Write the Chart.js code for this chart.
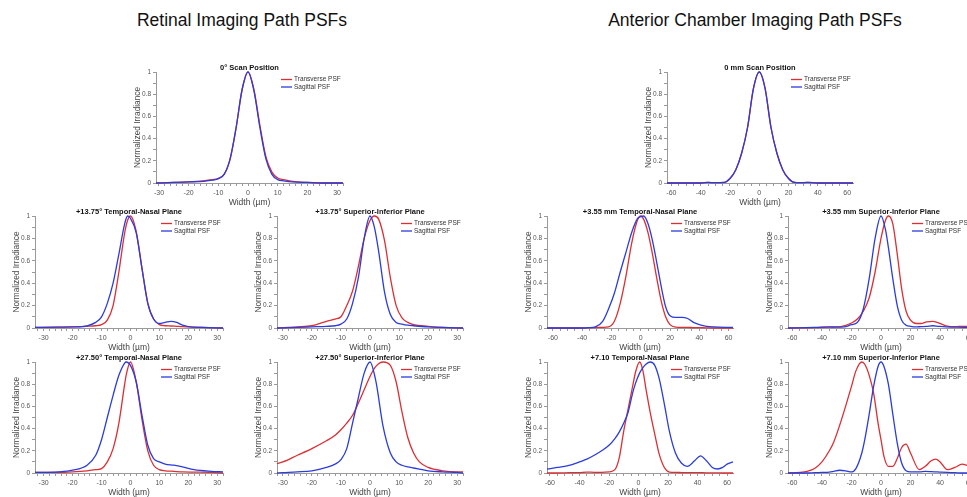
<!DOCTYPE html>
<html>
<head>
<meta charset="utf-8">
<title>Retinal and Anterior Chamber PSFs</title>
<script src="https://cdn.jsdelivr.net/npm/chart.js@4.4.1/dist/chart.umd.min.js"></script>
<style>
  html, body { margin: 0; padding: 0; background: #fff; }
  body { width: 967px; height: 497px; position: relative; overflow: hidden; font-family: "Liberation Sans", Arial, sans-serif; }
  .head { position: absolute; top: 10px; width: 480px; font-size: 17.5px; color: #111; text-align: center; }
  canvas { position: absolute; }
</style>
</head>
<body>
<div class="head" style="left:2px">Retinal Imaging Path PSFs</div>
<div class="head" style="left:515px">Anterior Chamber Imaging Path PSFs</div>
<script>
// values (width in µm, normalized irradiance)
const c1X     = [-31, -25, -20, -15, -12, -10, -8, -6, -4, -2, 0, 2, 4, 6, 8, 10, 12, 15, 20, 25, 32];
const c1Trans = [0, 0.005, 0.01, 0.02, 0.03, 0.04, 0.08, 0.22, 0.5, 0.84, 1, 0.84, 0.52, 0.24, 0.1, 0.045, 0.03, 0.015, 0.005, 0, 0];
const c1Sag   = [0, 0.005, 0.01, 0.015, 0.025, 0.04, 0.08, 0.22, 0.5, 0.84, 1, 0.83, 0.5, 0.22, 0.08, 0.03, 0.02, 0.01, 0.005, 0, 0];

const c2X     = [-33, -25, -20, -15, -12, -10, -8, -6, -4, -2, -1, 0, 2, 4, 6, 8, 10, 12, 14, 16, 18, 20, 25, 32];
const c2Trans = [0.005, 0.008, 0.01, 0.015, 0.02, 0.03, 0.07, 0.2, 0.5, 0.85, 0.96, 1, 0.86, 0.53, 0.22, 0.08, 0.03, 0.02, 0.018, 0.015, 0.012, 0.01, 0.005, 0];
const c2Sag   = [0.005, 0.008, 0.01, 0.02, 0.05, 0.1, 0.22, 0.4, 0.66, 0.93, 1, 0.98, 0.85, 0.53, 0.22, 0.08, 0.04, 0.05, 0.06, 0.05, 0.025, 0.012, 0.005, 0];

const c3X     = [-32, -25, -20, -15, -12, -10, -8, -6, -4, -2, 0, 1.5, 3, 5, 7, 9, 11, 13, 15, 20, 25, 32];
const c3Trans = [0, 0.01, 0.02, 0.06, 0.08, 0.1, 0.2, 0.33, 0.55, 0.8, 0.96, 1, 0.97, 0.78, 0.45, 0.2, 0.09, 0.05, 0.03, 0.015, 0.005, 0];
const c3Sag   = [0, 0.005, 0.01, 0.015, 0.02, 0.035, 0.08, 0.22, 0.45, 0.8, 1, 0.9, 0.68, 0.32, 0.12, 0.05, 0.035, 0.025, 0.02, 0.01, 0.005, 0];

const c4X     = [-33, -25, -20, -15, -12, -10, -8, -6, -4, -2, -1.5, 0, 2, 4, 6, 8, 10, 12, 15, 18, 22, 28, 32];
const c4Trans = [0.005, 0.005, 0.01, 0.02, 0.03, 0.04, 0.1, 0.22, 0.45, 0.8, 0.88, 1, 0.82, 0.48, 0.2, 0.07, 0.03, 0.02, 0.015, 0.01, 0.008, 0.005, 0];
const c4Sag   = [0.005, 0.01, 0.025, 0.07, 0.16, 0.3, 0.5, 0.7, 0.88, 0.99, 1, 0.97, 0.82, 0.52, 0.25, 0.13, 0.1, 0.08, 0.07, 0.055, 0.03, 0.015, 0.01];

const c5X     = [-32, -30, -25, -20, -15, -12, -10, -8, -6, -4, -2, 0, 2, 4.5, 7, 9, 11, 13, 15, 17, 20, 25, 30, 32];
const c5Trans = [0.085, 0.1, 0.16, 0.22, 0.29, 0.34, 0.39, 0.45, 0.52, 0.63, 0.75, 0.87, 0.96, 1, 0.97, 0.82, 0.55, 0.32, 0.18, 0.1, 0.05, 0.02, 0.01, 0.01];
const c5Sag   = [0, 0.003, 0.01, 0.02, 0.05, 0.08, 0.12, 0.22, 0.45, 0.68, 0.9, 1, 0.83, 0.42, 0.18, 0.1, 0.07, 0.055, 0.045, 0.035, 0.02, 0.01, 0.005, 0];

const c6X     = [-63, -40, -35, -30, -24, -20, -16, -12, -8, -4, 0, 4, 8, 12, 16, 20, 24, 28, 33, 40, 64];
const c6Trans = [0, 0, 0.005, 0.003, 0.005, 0.04, 0.12, 0.27, 0.5, 0.85, 1, 0.85, 0.5, 0.27, 0.12, 0.04, 0.005, 0.003, 0.005, 0, 0];
const c6Sag   = [0, 0, 0.005, 0.003, 0.005, 0.04, 0.12, 0.27, 0.5, 0.85, 1, 0.85, 0.5, 0.27, 0.12, 0.04, 0.005, 0.003, 0.005, 0, 0];

const c7X     = [-64, -40, -36, -31, -26, -22, -18, -14, -10, -6, -2, 0, 2, 5, 8, 11, 14, 17, 20, 24, 28, 32, 36, 40, 45, 50, 63];
const c7Trans = [0, 0, 0.002, 0.004, 0.006, 0.01, 0.06, 0.22, 0.47, 0.77, 0.97, 1, 0.97, 0.85, 0.66, 0.44, 0.24, 0.1, 0.03, 0.008, 0.006, 0.005, 0.004, 0.003, 0.002, 0, 0];
const c7Sag   = [0, 0, 0.003, 0.01, 0.06, 0.17, 0.31, 0.5, 0.68, 0.86, 0.98, 0.995, 1, 0.93, 0.78, 0.58, 0.37, 0.19, 0.11, 0.095, 0.095, 0.085, 0.05, 0.03, 0.015, 0.01, 0.005];

const c8X     = [-63, -45, -35, -30, -25, -20, -16, -12, -8, -4, 0, 3, 5, 8, 11, 14, 17, 20, 24, 27, 31, 35, 39, 44, 50, 56, 63];
const c8Trans = [0, 0.003, 0.008, 0.01, 0.02, 0.045, 0.08, 0.15, 0.27, 0.5, 0.8, 0.96, 1, 0.93, 0.66, 0.35, 0.15, 0.07, 0.04, 0.04, 0.055, 0.06, 0.045, 0.02, 0.012, 0.015, 0.012];
const c8Sag   = [0, 0.005, 0.01, 0.008, 0.01, 0.03, 0.05, 0.17, 0.44, 0.8, 1, 0.88, 0.72, 0.44, 0.2, 0.07, 0.025, 0.015, 0.01, 0.012, 0.015, 0.02, 0.015, 0.01, 0.008, 0.006, 0.005];

const c9X     = [-62, -55, -50, -45, -40, -35, -30, -25, -20, -16, -13, -10, -7, -4, -2, 0.7, 3, 5, 8, 11, 14, 17.5, 21, 25, 29, 33, 38, 42, 46, 50, 53.5, 57, 60, 64];
const c9Trans = [0, 0, 0.002, 0.003, 0.004, 0.008, 0.006, 0.006, 0.01, 0.03, 0.14, 0.38, 0.58, 0.78, 0.91, 1, 0.92, 0.76, 0.54, 0.35, 0.17, 0.05, 0.008, 0.005, 0.004, 0.003, 0.004, 0.003, 0.002, 0.002, 0.001, 0, 0, 0];
const c9Sag   = [0.035, 0.05, 0.06, 0.075, 0.1, 0.125, 0.16, 0.2, 0.25, 0.31, 0.37, 0.45, 0.55, 0.72, 0.81, 0.9, 0.95, 0.98, 1, 0.97, 0.85, 0.62, 0.37, 0.18, 0.09, 0.06, 0.11, 0.155, 0.11, 0.05, 0.036, 0.05, 0.08, 0.1];

const c10X     = [-63, -55, -50, -45, -40, -35, -32, -28, -24, -20, -17, -13, -11, -8, -5, -2, 0, 2, 5, 8, 11, 14, 17, 20, 26, 30, 34, 37, 40, 45, 50, 55, 60, 63];
const c10Trans = [0, 0.005, 0.015, 0.04, 0.1, 0.2, 0.28, 0.43, 0.6, 0.78, 0.92, 1, 0.98, 0.88, 0.72, 0.45, 0.3, 0.15, 0.06, 0.06, 0.13, 0.23, 0.26, 0.18, 0.03, 0.06, 0.11, 0.125, 0.1, 0.03, 0.05, 0.08, 0.06, 0.04];
const c10Sag   = [0, 0, 0, 0.003, 0.005, 0.008, 0.015, 0.025, 0.02, 0.01, 0.04, 0.18, 0.3, 0.53, 0.78, 0.96, 1, 0.96, 0.8, 0.53, 0.27, 0.09, 0.02, 0.01, 0.01, 0.015, 0.012, 0.01, 0.008, 0.005, 0.003, 0, 0, 0];

const retinalTicks = [-30, -20, -10, 0, 10, 20, 30];
const anteriorTicks = [-60, -40, -20, 0, 20, 40, 60];
const yTicks = [0, 0.2, 0.4, 0.6, 0.8, 1];
const seriesNames = ['Transverse PSF', 'Sagittal PSF'];

const RED = '#dc2f34';
const BLUE = '#2b3cdc';
const AXIS = '#9a9a9a';
Chart.defaults.font.family = '"Liberation Sans", Arial, sans-serif';

// box = [plot left, plot top, plot width, plot height] on the page
const panels = [
  { title: '0° Scan Position', x: c1X, t: c1Trans, s: c1Sag, min: -31, max: 32, ticks: retinalTicks, step: 2, box: [156, 72, 187, 111] },
  { title: '+13.75° Temporal-Nasal Plane', x: c2X, t: c2Trans, s: c2Sag, min: -33, max: 32, ticks: retinalTicks, step: 2, box: [35, 216, 188, 112] },
  { title: '+13.75° Superior-Inferior Plane', x: c3X, t: c3Trans, s: c3Sag, min: -32, max: 32, ticks: retinalTicks, step: 2, box: [277, 216, 186, 112] },
  { title: '+27.50° Temporal-Nasal Plane', x: c4X, t: c4Trans, s: c4Sag, min: -33, max: 32, ticks: retinalTicks, step: 2, box: [35, 362, 188, 111] },
  { title: '+27.50° Superior-Inferior Plane', x: c5X, t: c5Trans, s: c5Sag, min: -32, max: 32, ticks: retinalTicks, step: 2, box: [277, 362, 186, 111] },
  { title: '0 mm Scan Position', x: c6X, t: c6Trans, s: c6Sag, min: -63, max: 64, ticks: anteriorTicks, step: 5, box: [667, 72, 186, 111] },
  { title: '+3.55 mm Temporal-Nasal Plane', x: c7X, t: c7Trans, s: c7Sag, min: -64, max: 63, ticks: anteriorTicks, step: 5, box: [547, 216, 186, 112] },
  { title: '+3.55 mm Superior-Inferior Plane', x: c8X, t: c8Trans, s: c8Sag, min: -63, max: 63, ticks: anteriorTicks, step: 5, box: [788, 216, 186, 112] },
  { title: '+7.10 Temporal-Nasal Plane', x: c9X, t: c9Trans, s: c9Sag, min: -62, max: 64, ticks: anteriorTicks, step: 5, box: [547, 362, 186, 111] },
  { title: '+7.10 mm Superior-Inferior Plane', x: c10X, t: c10Trans, s: c10Sag, min: -63, max: 63, ticks: anteriorTicks, step: 5, box: [788, 362, 186, 111] }
];

const PAD_L = 48, PAD_T = 24, PAD_B = 26, PAD_R = 12;

// small two-line legend in the top right corner of each plot
const psfLegend = {
  id: 'psfLegend',
  afterDatasetsDraw(chart) {
    const { ctx, chartArea } = chart;
    const x0 = chartArea.right - 62;
    ctx.save();
    ctx.font = '6.5px "Liberation Sans", Arial, sans-serif';
    ctx.textBaseline = 'middle';
    ctx.textAlign = 'left';
    chart.data.datasets.forEach((ds, i) => {
      const y = chartArea.top + 7.5 + i * 7.5;
      ctx.strokeStyle = ds.borderColor;
      ctx.lineWidth = 1.3;
      ctx.beginPath();
      ctx.moveTo(x0, y);
      ctx.lineTo(x0 + 11, y);
      ctx.stroke();
      ctx.fillStyle = '#333';
      ctx.fillText(ds.label, x0 + 13, y);
    });
    ctx.restore();
  }
};

function points(xs, ys) {
  return xs.map((x, i) => ({ x: x, y: ys[i] }));
}

function makeChart(p) {
  const [left, top, w, h] = p.box;
  const cv = document.createElement('canvas');
  cv.width = w + PAD_L + PAD_R;
  cv.height = h + PAD_T + PAD_B;
  cv.style.left = (left - PAD_L) + 'px';
  cv.style.top = (top - PAD_T) + 'px';
  document.body.appendChild(cv);

  const line = { pointRadius: 0, borderWidth: 1.3, fill: false, cubicInterpolationMode: 'monotone', clip: 5 };

  new Chart(cv, {
    type: 'line',
    data: {
      datasets: [
        Object.assign({ label: seriesNames[0], data: points(p.x, p.t), borderColor: RED, order: 1 }, line),
        Object.assign({ label: seriesNames[1], data: points(p.x, p.s), borderColor: BLUE, order: 0 }, line)
      ]
    },
    options: {
      responsive: false,
      animation: false,
      devicePixelRatio: 1,
      layout: { padding: { left: 0, right: PAD_R, top: 0, bottom: 0 } },
      plugins: {
        legend: { display: false },
        tooltip: { enabled: false },
        title: {
          display: true, text: p.title, fullSize: false, color: '#111',
          font: { size: 7.5, weight: 'bold' }, padding: { top: 15, bottom: 0 }
        }
      },
      scales: {
        x: {
          type: 'linear', min: p.min, max: p.max,
          afterFit: (s) => { s.height = PAD_B; },
          border: { color: AXIS, width: 1 },
          grid: { drawOnChartArea: false, tickLength: 3, color: AXIS },
          ticks: {
            stepSize: p.step, autoSkip: false, maxRotation: 0, includeBounds: false,
            padding: 3, color: '#555', font: { size: 7 },
            callback: (v) => p.ticks.includes(v) ? String(v) : ''
          },
          title: { display: true, text: 'Width (µm)', color: '#444', font: { size: 8.5 }, padding: { top: 0, bottom: 1.6 } }
        },
        y: {
          min: 0, max: 1,
          afterFit: (s) => { s.width = PAD_L; },
          border: { color: AXIS, width: 1 },
          grid: { drawOnChartArea: false, tickLength: 3, color: AXIS },
          ticks: {
            stepSize: 0.1, autoSkip: false, padding: 2, color: '#555', font: { size: 6.5 },
            callback: (v) => {
              const r = Math.round(v * 10) / 10;
              return yTicks.includes(r) ? String(r) : '';
            }
          },
          title: { display: true, text: 'Normalized Irradiance', color: '#444', font: { size: 8.3 }, padding: { top: 24.5, bottom: 0 } }
        }
      }
    },
    plugins: [psfLegend]
  });
}

panels.forEach(makeChart);
</script>
</body>
</html>
